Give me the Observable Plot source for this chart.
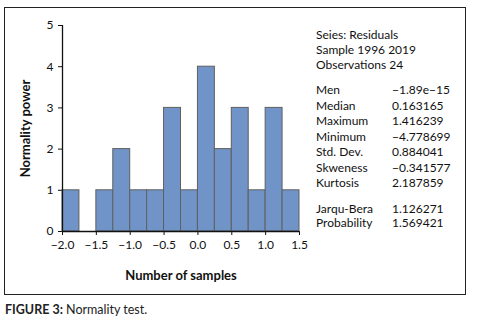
<!DOCTYPE html>
<html>
<head>
<meta charset="utf-8">
<script src="https://cdn.jsdelivr.net/npm/d3@7"></script>
<script src="https://cdn.jsdelivr.net/npm/@observablehq/plot@0.6"></script>
<style>
  body { margin: 0; background: #fff; font-family: Lato, "Open Sans", sans-serif; }
  #wrap { position: relative; width: 478px; height: 330px; }
  #frame { position: absolute; left: 4px; top: 7px; width: 460px; height: 286px; border: 1.3px solid #222; }
  #chart { position: absolute; left: 0; top: 0; }
  #stats { position: absolute; left: 316px; top: 27px; font-size: 12px; color: #111; line-height: 15px; }
  #stats .row { display: flex; height: 15px; }
  #stats .s { height: 15.5px; }
  #stats .t { height: 14px; }
  #stats .k { width: 76px; }
  #stats .gap { height: 10px; }
  #caption { position: absolute; left: 5px; top: 302px; font-size: 12.5px; color: #222; }
</style>
</head>
<body>
<div id="wrap">
  <div id="frame"></div>
  <div id="chart"></div>
  <div id="stats"></div>
  <div id="caption"><b>FIGURE 3:</b> Normality test.</div>
</div>
<script>
const binStart = [-2.0, -1.75, -1.5, -1.25, -1.0, -0.75, -0.5, -0.25, 0.0, 0.25, 0.5, 0.75, 1.0, 1.25];
const binWidth = 0.25;
const counts = [1, 0, 1, 2, 1, 1, 3, 1, 4, 2, 3, 1, 3, 1];
const xTicks = [-2.0, -1.5, -1.0, -0.5, 0.0, 0.5, 1.0, 1.5];
const yTicks = [0, 1, 2, 3, 4, 5];
const headerLines = ["Seies: Residuals", "Sample 1996 2019", "Observations 24"];
const statNames = ["Men", "Median", "Maximum", "Minimum", "Std. Dev.", "Skweness", "Kurtosis"];
const statValues = ["\u22121.89e\u221215", "0.163165", "1.416239", "\u22124.778699", "0.884041", "\u22120.341577", "2.187859"];
const testNames = ["Jarqu-Bera", "Probability"];
const testValues = ["1.126271", "1.569421"];

const bins = binStart.map((s, i) => ({x1: s, x2: s + binWidth, y: counts[i]}));

const plot = Plot.plot({
  width: 478,
  height: 296,
  marginTop: 25,
  marginBottom: 65,
  marginLeft: 62,
  marginRight: 179,
  style: {fontFamily: "Lato, 'Open Sans', sans-serif", fontSize: "12px", color: "#111", background: "transparent"},
  x: {domain: [-2, 1.5], ticks: xTicks, tickFormat: d3.format(".1f"), tickSize: 4, label: "Number of samples", labelAnchor: "center", labelOffset: 48, labelArrow: "none"},
  y: {domain: [0, 5], ticks: yTicks, tickFormat: d3.format("d"), tickSize: 4, label: "Normality power", labelAnchor: "center", labelOffset: 42, labelArrow: "none"},
  marks: [
    Plot.rectY(bins.filter(d => d.y > 0), {x1: "x1", x2: "x2", y: "y", fill: "#7094c8", stroke: "#5f5f5f", strokeWidth: 1, inset: 0}),
    Plot.ruleY([0], {stroke: "#111", strokeWidth: 1.3}),
    Plot.ruleX([-2], {stroke: "#111", strokeWidth: 1.3})
  ]
});
d3.select(plot).selectAll("[aria-label='x-axis label'] text, [aria-label='y-axis label'] text")
  .style("font-weight", "bold").style("font-size", "13px")
  .each(function() { this.textContent = this.textContent.replace(/\s*[\u2190-\u2193]\s*/g, ""); });
document.getElementById("chart").appendChild(plot);

const stats = d3.select("#stats");
headerLines.forEach(t => stats.append("div").attr("class", "row").text(t));
stats.append("div").attr("class", "gap");
statNames.forEach((n, i) => {
  const r = stats.append("div").attr("class", "row s");
  r.append("span").attr("class", "k").text(n);
  r.append("span").text(statValues[i]);
});
stats.append("div").attr("class", "gap");
testNames.forEach((n, i) => {
  const r = stats.append("div").attr("class", "row t");
  r.append("span").attr("class", "k").text(n);
  r.append("span").text(testValues[i]);
});
</script>
</body>
</html>
